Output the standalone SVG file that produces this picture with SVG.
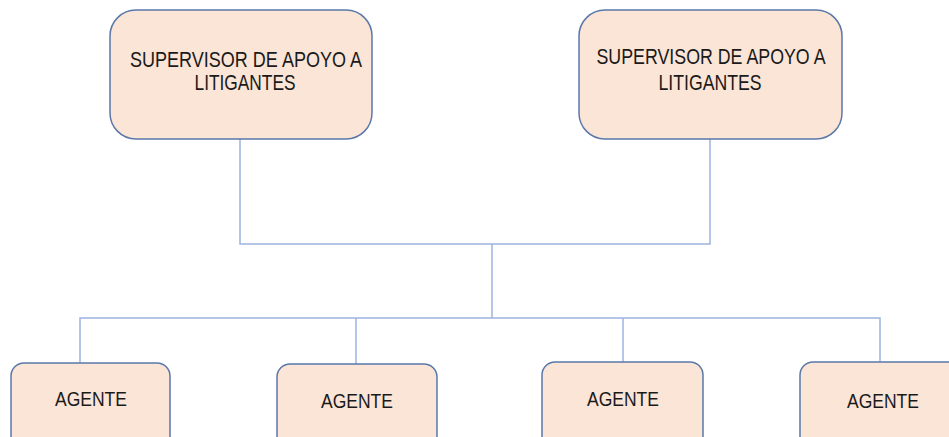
<svg xmlns="http://www.w3.org/2000/svg" width="949" height="437" viewBox="0 0 949 437">
<style>
.box{fill:#FBE5D6;stroke:#5A78AA;stroke-width:1.5}
.t{font-family:"Liberation Sans",Arial,sans-serif;fill:#1a1a1a;text-anchor:middle}
.sup{font-size:21.5px}
.ag{font-size:19.5px}
.c{stroke:#9DB3DE;stroke-width:1.5;fill:none}
</style>
<rect width="949" height="437" fill="#fff"/>
<g id="connectors">
<path class="c" d="M240 139V244H710V139"/>
<path class="c" d="M492 244V318"/>
<path class="c" d="M80 363V318H880V363"/>
<path class="c" d="M356 318V364"/>
<path class="c" d="M623 318V362"/>
</g>
<g id="sup1">
<rect class="box" x="110" y="10" width="262" height="129" rx="26"/>
<text class="t sup" x="246" y="67" textLength="232" lengthAdjust="spacingAndGlyphs">SUPERVISOR DE APOYO A</text>
<text class="t sup" x="245" y="90" textLength="101" lengthAdjust="spacingAndGlyphs">LITIGANTES</text>
</g>
<g id="sup2">
<rect class="box" x="579" y="10" width="263" height="129" rx="26"/>
<text class="t sup" x="711" y="64" textLength="229" lengthAdjust="spacingAndGlyphs">SUPERVISOR DE APOYO A</text>
<text class="t sup" x="710" y="90" textLength="103" lengthAdjust="spacingAndGlyphs">LITIGANTES</text>
</g>
<g id="agente1">
<rect class="box" x="11" y="363" width="159" height="95" rx="13"/>
<text class="t ag" x="91" y="406" textLength="72" lengthAdjust="spacingAndGlyphs">AGENTE</text>
</g>
<g id="agente2">
<rect class="box" x="277" y="364" width="160" height="95" rx="13"/>
<text class="t ag" x="357" y="408" textLength="72" lengthAdjust="spacingAndGlyphs">AGENTE</text>
</g>
<g id="agente3">
<rect class="box" x="542" y="362" width="161" height="95" rx="13"/>
<text class="t ag" x="623" y="406" textLength="72" lengthAdjust="spacingAndGlyphs">AGENTE</text>
</g>
<g id="agente4">
<rect class="box" x="800" y="362" width="170" height="95" rx="13"/>
<text class="t ag" x="883" y="408" textLength="72" lengthAdjust="spacingAndGlyphs">AGENTE</text>
</g>
</svg>
